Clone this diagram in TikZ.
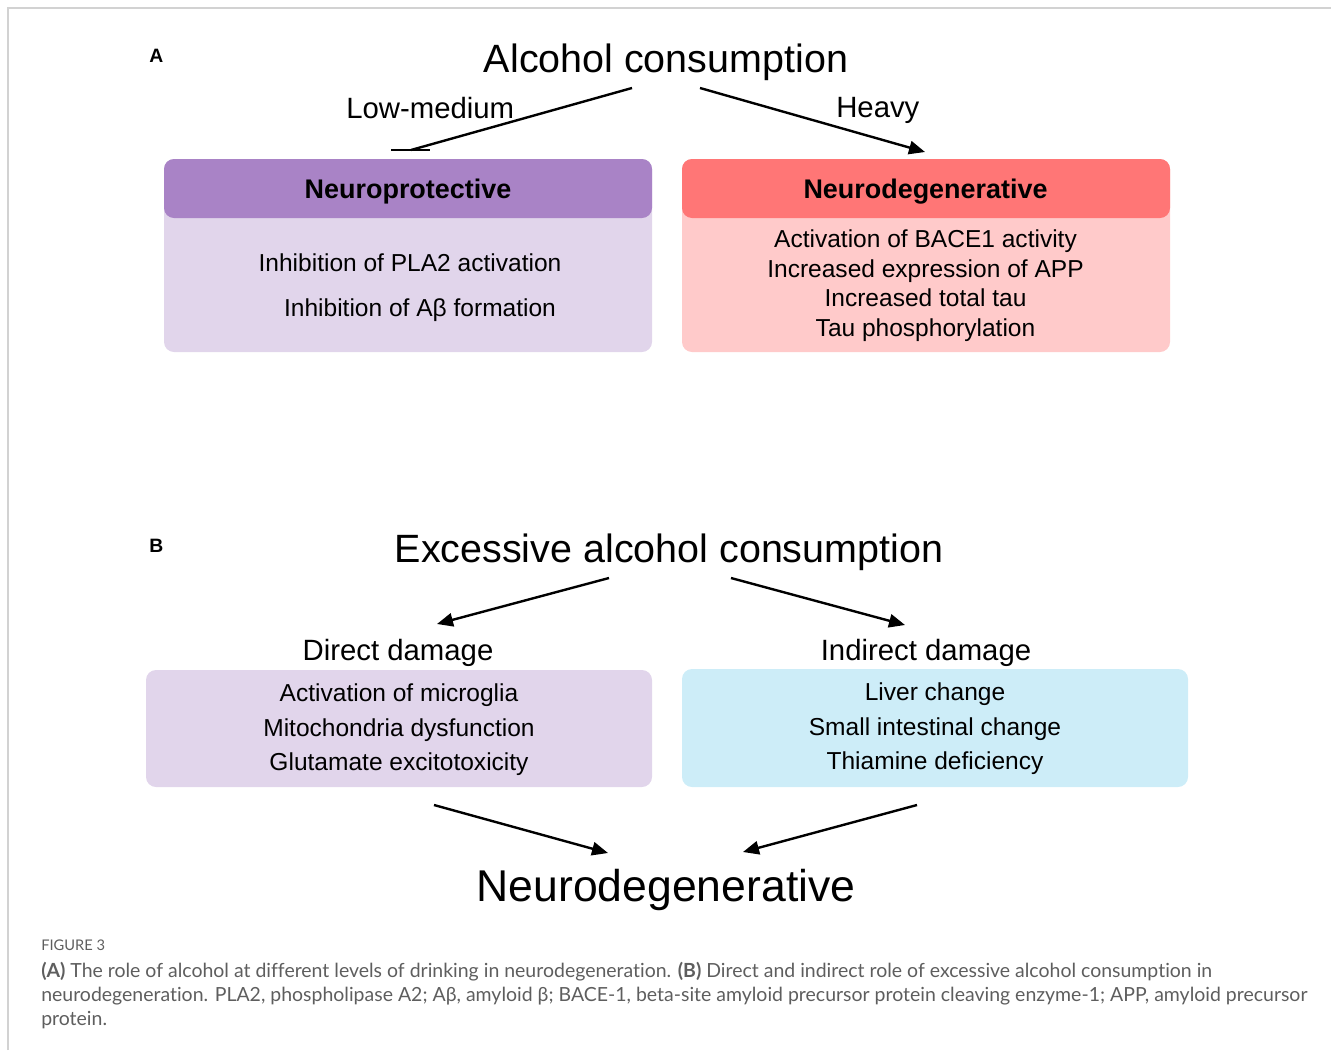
\documentclass[tikz,border=0pt]{standalone}
\usepackage{fontspec}
\setmainfont{Liberation Sans}
\newfontfamily\capfont{Lato}[Ligatures={NoCommon,NoRare}]
\usetikzlibrary{arrows.meta}

\definecolor{protHead}{HTML}{A983C6}
\definecolor{protBody}{HTML}{E1D5EB}
\definecolor{degHead}{HTML}{FF7676}
\definecolor{degBody}{HTML}{FFCACA}
\definecolor{indBody}{HTML}{CDEDF8}
\definecolor{frameGray}{HTML}{D2D2D2}
\definecolor{capGray}{HTML}{5E5E5E}

\newcommand{\fsTitle}{\fontsize{29.6}{35}\selectfont}
\newcommand{\fsEnd}{\fontsize{33.4}{39}\selectfont}
\newcommand{\fsSub}{\fontsize{22}{26}\selectfont}
\newcommand{\fsDam}{\fontsize{22}{26}\selectfont}
\newcommand{\fsHead}{\fontsize{20.2}{24}\selectfont\bfseries}
\newcommand{\fsBody}{\fontsize{18.4}{22}\selectfont}
\newcommand{\fsCap}{\capfont\fontsize{14.6}{17}\selectfont}

\tikzset{
  lbl/.style={anchor=base, inner sep=0pt},
  arr/.style={line width=1.8pt, -{Triangle[length=12pt,width=10pt]}},
  stop/.style={line width=1.8pt},
}

\begin{document}
\begin{tikzpicture}[x=0.75pt,y=-0.75pt]
	\useasboundingbox (0,0) rectangle (1331,1050);
	\draw[frameGray, line width=1.5pt] (8,1050) -- (8,8) -- (1331,8);

	% part A
	\node[lbl, anchor=base west, font=\fontsize{14.5}{17}\selectfont\bfseries] (labA) at (149,62) {A};
	\node[lbl, font=\fsTitle] (alc) at (666,72) {Alcohol consumption};
	\node[lbl, anchor=base west, font=\fsSub] (low) at (346,118) {Low-medium};
	\node[lbl, anchor=base west, font=\fsSub] (heavy) at (836,117) {Heavy};

	\fill[protBody, rounded corners=7.5pt] (164,159) rectangle (652,352);
	\fill[protHead, rounded corners=7.5pt] (164,159) rectangle (652,218);
	\node[lbl, font=\fsHead] (prot) at (408,198) {Neuroprotective};
	\node[lbl, font=\fsBody] (pla) at (410,271) {Inhibition of PLA2 activation};
	\node[lbl, font=\fsBody] (abeta) at (420,316) {Inhibition of Aβ formation};

	\fill[degBody, rounded corners=7.5pt] (682,159) rectangle (1170,352);
	\fill[degHead, rounded corners=7.5pt] (682,159) rectangle (1170,218);
	\node[lbl, font=\fsHead] (deg) at (925.5,198) {Neurodegenerative};
	\node[lbl, font=\fsBody] (bace) at (925.5,247.5) {Activation of BACE1 activity};
	\node[lbl, font=\fsBody] (app) at (925.5,277) {Increased expression of APP};
	\node[lbl, font=\fsBody] (tau) at (925.5,306.5) {Increased total tau};
	\node[lbl, font=\fsBody] (ptau) at (925.5,336) {Tau phosphorylation};

	\coordinate (lowS) at (632,88);
	\coordinate (lowE) at (411,150);
	\coordinate (barL) at (391,150);
	\coordinate (barR) at (430,150);
	\coordinate (heavyS) at (700,88);
	\coordinate (heavyE) at (925,152);
	\draw[stop] (lowS) -- (lowE);
	\draw[stop] (barL) -- (barR);
	\draw[arr] (heavyS) -- (heavyE);

	% part B
	\node[lbl, anchor=base west, font=\fontsize{14.5}{17}\selectfont\bfseries] (labB) at (149,552) {B};
	\node[lbl, font=\fsTitle] (exc) at (669,562) {Excessive alcohol consumption};
	\node[lbl, font=\fsDam] (dir) at (398,660) {Direct damage};
	\node[lbl, font=\fsDam] (ind) at (926,660) {Indirect damage};

	\fill[protBody, rounded corners=7.5pt] (146,670) rectangle (652,787);
	\node[lbl, font=\fsBody] (micro) at (399,701) {Activation of microglia};
	\node[lbl, font=\fsBody] (mito) at (399,736) {Mitochondria dysfunction};
	\node[lbl, font=\fsBody] (glu) at (399,770) {Glutamate excitotoxicity};

	\fill[indBody, rounded corners=7.5pt] (682,669) rectangle (1188,787);
	\node[lbl, font=\fsBody] (liver) at (935,700) {Liver change};
	\node[lbl, font=\fsBody] (gut) at (935,735) {Small intestinal change};
	\node[lbl, font=\fsBody] (thia) at (935,769) {Thiamine deficiency};

	\node[lbl, font=\fsEnd] (end) at (666,901) {Neurodegenerative};

	\coordinate (dirS) at (609,578);
	\coordinate (dirE) at (437,624);
	\coordinate (indS) at (731,578);
	\coordinate (indE) at (905,625);
	\coordinate (fromDir) at (434,805);
	\coordinate (toEndL) at (608,853);
	\coordinate (fromInd) at (917,805);
	\coordinate (toEndR) at (743,852);
	\draw[arr] (dirS) -- (dirE);
	\draw[arr] (indS) -- (indE);
	\draw[arr] (fromDir) -- (toEndL);
	\draw[arr] (fromInd) -- (toEndR);

	% caption
	\node[lbl, anchor=base west, font=\capfont\fontsize{11}{13}\selectfont, text=capGray] (fig) at (41,950) {FIGURE 3};
	\node[lbl, anchor=base west, font=\fsCap, text=capGray] (cap1) at (41,977) {\textbf{(A)} The role of alcohol at different levels of drinking in neurodegeneration. \textbf{(B)} Direct and indirect role of excessive alcohol consumption in};
	\node[lbl, anchor=base west, font=\fsCap, text=capGray] (cap2) at (41,1001) {neurodegeneration. PLA2, phospholipase A2; Aβ, amyloid β; BACE-1, beta-site amyloid precursor protein cleaving enzyme-1; APP, amyloid precursor};
	\node[lbl, anchor=base west, font=\fsCap, text=capGray] (cap3) at (41,1025) {protein.};
\end{tikzpicture}
\end{document}
